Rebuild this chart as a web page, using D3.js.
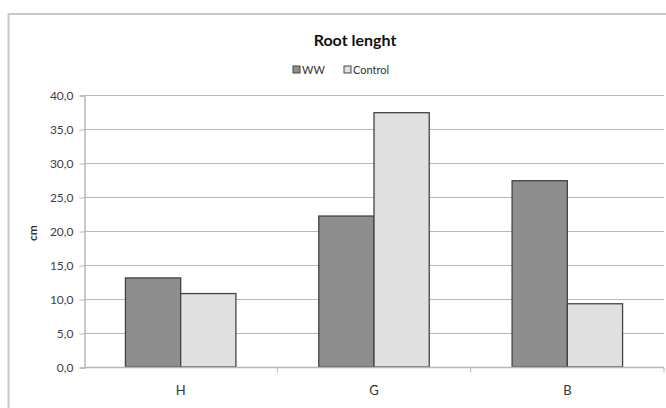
<!DOCTYPE html>
<html><head><meta charset="utf-8">
<script src="https://cdn.jsdelivr.net/npm/d3@7"></script>
<style>body{margin:0;background:#fff}svg{display:block}</style>
</head><body>
<script>
const categories = ["H", "G", "B"];
const seriesNames = ["WW", "Control"];
const wwValues = [13.1, 22.2, 27.4];
const controlValues = [10.8, 37.4, 9.3];
const yTicks = [0, 5, 10, 15, 20, 25, 30, 35, 40];
const colors = {WW: "#8e8e8e", Control: "#e0e0e0"};

const W = 666, H = 408;
const m = {left: 84, right: 2, top: 95, bottom: 41};
const svg = d3.select("body").append("svg").attr("width", W).attr("height", H);

// outer chart border
svg.append("rect").attr("x", 8.5).attr("y", 14).attr("width", 700).attr("height", 420)
  .attr("fill", "none").attr("stroke", "#c8c8c8").attr("stroke-width", 2);

const x0 = d3.scaleBand().domain(categories).range([m.left, W - m.right]).padding(0);
const x1 = d3.scaleBand().domain(seriesNames).range([0, x0.bandwidth()]).paddingInner(0).paddingOuter(0.75);
const y = d3.scaleLinear().domain([0, 40]).range([H - m.bottom, m.top]);

// gridlines
svg.append("g").selectAll("line").data(yTicks.filter(d => d > 0)).join("line")
  .attr("x1", m.left).attr("x2", W - m.right)
  .attr("y1", d => Math.round(y(d)) + 0.5).attr("y2", d => Math.round(y(d)) + 0.5)
  .attr("stroke", "#b8b8b8").attr("stroke-width", 1);

// y axis
const yAxis = d3.axisLeft(y).tickValues(yTicks).tickSize(5).tickPadding(6)
  .tickFormat(d => d3.format(".1f")(d).replace(".", ","));
const gy = svg.append("g").attr("transform", `translate(${m.left + 0.5},0.5)`).call(yAxis);
gy.select(".domain").attr("stroke", "#b8b8b8").attr("stroke-width", 1.5);
gy.selectAll(".tick line").attr("stroke", "#b8b8b8");
gy.selectAll("text").attr("font-family", "Lato, 'Open Sans', sans-serif").attr("font-size", 12).attr("fill", "#404040");

// bars
const data = categories.map((c, i) => ({c, vals: [{s: "WW", v: wwValues[i]}, {s: "Control", v: controlValues[i]}]}));
svg.append("g").selectAll("g").data(data).join("g")
  .attr("transform", d => `translate(${x0(d.c)},0)`)
  .selectAll("rect").data(d => d.vals).join("rect")
  .attr("x", d => x1(d.s)).attr("width", x1.bandwidth())
  .attr("y", d => y(d.v)).attr("height", d => y(0) - y(d.v))
  .attr("fill", d => colors[d.s]).attr("stroke", "#444").attr("stroke-width", 1.3);

// x axis
const xAxisG = svg.append("g").attr("transform", `translate(0,${Math.round(y(0)) + 0.5})`);
xAxisG.append("line").attr("x1", m.left).attr("x2", W - m.right).attr("stroke", "#b8b8b8").attr("stroke-width", 1.5);
const bounds = categories.map(c => x0(c)).concat([x0(categories[categories.length - 1]) + x0.bandwidth()]);
xAxisG.selectAll("line.tk").data(bounds.slice(1)).join("line").attr("class", "tk")
  .attr("x1", d => d).attr("x2", d => d).attr("y1", 0).attr("y2", 5).attr("stroke", "#b8b8b8");
xAxisG.selectAll("text").data(categories).join("text")
  .attr("x", d => x0(d) + x0.bandwidth() / 2).attr("y", 27)
  .attr("text-anchor", "middle").attr("font-family", "Lato, 'Open Sans', sans-serif")
  .attr("font-size", 13).attr("fill", "#333").text(d => d);

// y label
svg.append("text").attr("transform", "translate(37,233) rotate(-90)")
  .attr("text-anchor", "middle").attr("font-family", "Lato, 'Open Sans', sans-serif")
  .attr("font-size", 12).attr("font-weight", "bold").attr("fill", "#333").text("cm");

// title
svg.append("text").attr("x", 355).attr("y", 46).attr("text-anchor", "middle")
  .attr("font-family", "Lato, 'Open Sans', sans-serif").attr("font-size", 16).attr("font-weight", "bold")
  .attr("fill", "#111").text("Root lenght");

// legend
const legendX = [293, 344];
const lg = svg.append("g").selectAll("g").data(seriesNames).join("g")
  .attr("transform", (d, i) => `translate(${legendX[i]},66)`);
lg.append("rect").attr("width", 7).attr("height", 7).attr("fill", d => colors[d]).attr("stroke", "#444").attr("stroke-width", 1);
lg.append("text").attr("x", 9).attr("y", 8).attr("font-family", "Lato, 'Open Sans', sans-serif")
  .attr("font-size", 11).attr("fill", "#333").text(d => d);
</script>
</body></html>
